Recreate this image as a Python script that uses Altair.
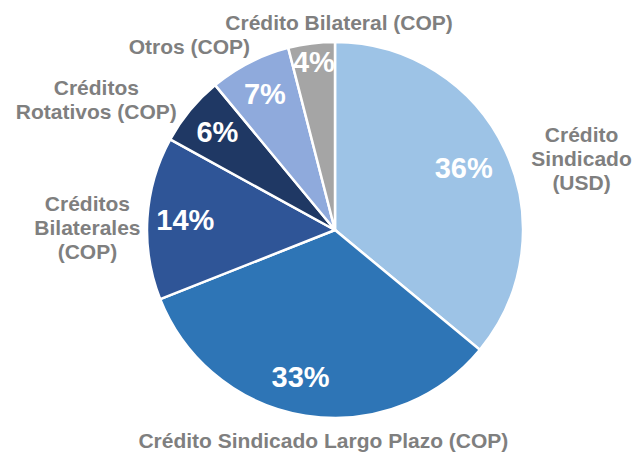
import math
import altair as alt
import pandas as pd

categories = [
    "Crédito Sindicado (USD)",
    "Crédito Sindicado Largo Plazo (COP)",
    "Créditos Bilaterales (COP)",
    "Créditos Rotativos (COP)",
    "Otros (COP)",
    "Crédito Bilateral (COP)",
]
labels = [
    "Crédito\nSindicado\n(USD)",
    "Crédito Sindicado Largo Plazo (COP)",
    "Créditos\nBilaterales\n(COP)",
    "Créditos\nRotativos (COP)",
    "Otros (COP)",
    "Crédito Bilateral (COP)",
]
values = [36, 33, 14, 6, 7, 4]
pct_labels = ["36%", "33%", "14%", "6%", "7%", "4%"]
colors = ["#9DC3E6", "#2E75B6", "#2F5597", "#1F3864", "#8FAADC", "#A5A5A5"]

df = pd.DataFrame({
    "idx": list(range(len(categories))),
    "category": categories,
    "label": labels,
    "value": values,
    "pct": pct_labels,
})

# layout (not data)
CX, CY = 327, 222
R = 188
FONT = "Liberation Sans"
label_layout = [(215, 52, -2), (215, 22, 0), (215, -33, -12), (215, -73, -4), (215, -48, 10), (215, 31, 7)]
pct_layout = [(150, -7, 3), (150, -11, 0), (150, 0, 0), (150, -2, -1), (150, -2, -1), (168, 0, 0)]

theta_scale = alt.Scale(domain=[0, 1], range=[0, 2 * math.pi])

base = (
    alt.Chart(df)
    .transform_joinaggregate(total="sum(value)")
    .transform_window(cum="sum(value)", sort=[alt.SortField("idx")], frame=[None, 0])
    .transform_calculate(
        start="(datum.cum - datum.value) / datum.total",
        end="datum.cum / datum.total",
        mid="(datum.cum - datum.value / 2) / datum.total",
    )
)

arcs = base.mark_arc(stroke="white", strokeWidth=2.5, radius=R).encode(
    x=alt.value(CX),
    y=alt.value(CY),
    theta=alt.Theta("start:Q", scale=theta_scale, stack=False),
    theta2="end:Q",
    color=alt.Color("category:N", scale=alt.Scale(domain=categories, range=colors), legend=None),
)

layers = [arcs]
for i, cat in enumerate(categories):
    r, dx, dy = label_layout[i]
    layers.append(
        base.transform_filter(alt.datum.category == cat)
        .mark_text(font=FONT, fontSize=21, fontWeight="bold", color="#7F7F7F",
                   lineBreak="\n", lineHeight=24, align="center", baseline="middle",
                   dx=dx, dy=dy)
        .encode(
            x=alt.value(CX), y=alt.value(CY),
            theta=alt.Theta("mid:Q", scale=theta_scale, stack=False),
            radius=alt.value(r),
            text="label:N",
        )
    )
    r, dx, dy = pct_layout[i]
    layers.append(
        base.transform_filter(alt.datum.category == cat)
        .mark_text(font=FONT, fontSize=29, fontWeight="bold", color="white",
                   align="center", baseline="middle", dx=dx, dy=dy)
        .encode(
            x=alt.value(CX), y=alt.value(CY),
            theta=alt.Theta("mid:Q", scale=theta_scale, stack=False),
            radius=alt.value(r),
            text="pct:N",
        )
    )

chart = (
    alt.layer(*layers)
    .properties(width=625, height=444, autosize=alt.AutoSizeParams(type="none"), padding=0)
    .configure_view(strokeWidth=0)
)

chart.save("out.html", embed_options={"renderer": "svg", "actions": False})
